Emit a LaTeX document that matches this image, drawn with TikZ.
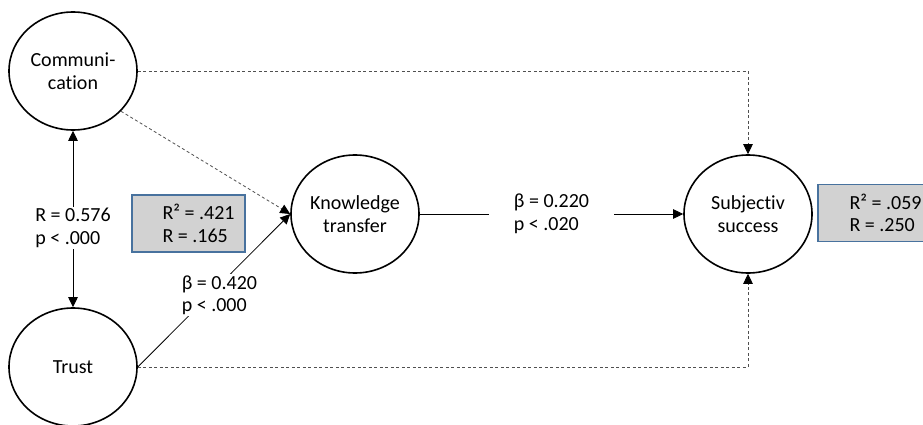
\documentclass[tikz,border=0pt]{standalone}
\usepackage{fontspec}
\setmainfont{Carlito}[Ligatures=NoCommon]
\usetikzlibrary{shapes.geometric,arrows.meta}
\definecolor{boxgray}{RGB}{210,210,210}
\definecolor{boxblue}{RGB}{72,114,158}
\definecolor{dashgray}{RGB}{80,80,80}
\begin{document}
\begin{tikzpicture}[x=1pt,y=-1pt,
	latent/.style={ellipse,draw,line width=1.6pt,minimum width=128pt,minimum height=118pt,inner sep=0pt,align=center},
	rbox/.style={draw=boxblue,line width=1.4pt,fill=boxgray,minimum height=57pt},
	rtext/.style={align=left,anchor=west,inner xsep=31pt},
	lbl/.style={fill=white,align=left,inner sep=1.5pt},
	effect/.style={line width=0.8pt,-{Triangle[length=10pt,width=9.5pt,color=black]}},
	cov/.style={line width=1pt,{Triangle[length=10pt,width=9.5pt]}-{Triangle[length=10pt,width=9.5pt]}},
	direct/.style={effect,draw=dashgray,dash pattern=on 3pt off 2.5pt}]
\fontsize{20}{22.5}\selectfont
\useasboundingbox (0,0) rectangle (923,425);
% constructs
\foreach \n/\x/\y/\t in {comm/73/71/{Communi-\\cation},trust/73/367/{Trust},know/355/214/{Knowledge\\transfer},succ/748/214/{Subjectiv\\success}}{
	\node[latent] (\n) at (\x,\y) {\t};}
% explained variance
\node[rbox,minimum width=113pt,label={[rtext]west:R² = .421\\R = .165}] (r2know) at (188.5,223.5) {};
\node[rbox,minimum width=130pt,label={[rtext,inner xsep=32pt]west:R² = .059\\R = .250}] (r2succ) at (883,213) {};
% paths
\draw[cov] (comm) -- node[lbl,pos=0.55] {R = 0.576\\p < .000} (trust);
\draw[direct] (comm.-40) -- (know.west);
\draw[effect] (trust.east) -- node[lbl,pos=0.47,xshift=10pt] {β = 0.420\\p < .000} (know.west);
\draw[effect] (know) -- node[lbl,minimum width=125pt] {β = 0.220\\p < .020} (succ);
\draw[direct] (comm.east) -| (succ.north);
\draw[direct] (trust.east) -| (succ.south);
\end{tikzpicture}
\end{document}
